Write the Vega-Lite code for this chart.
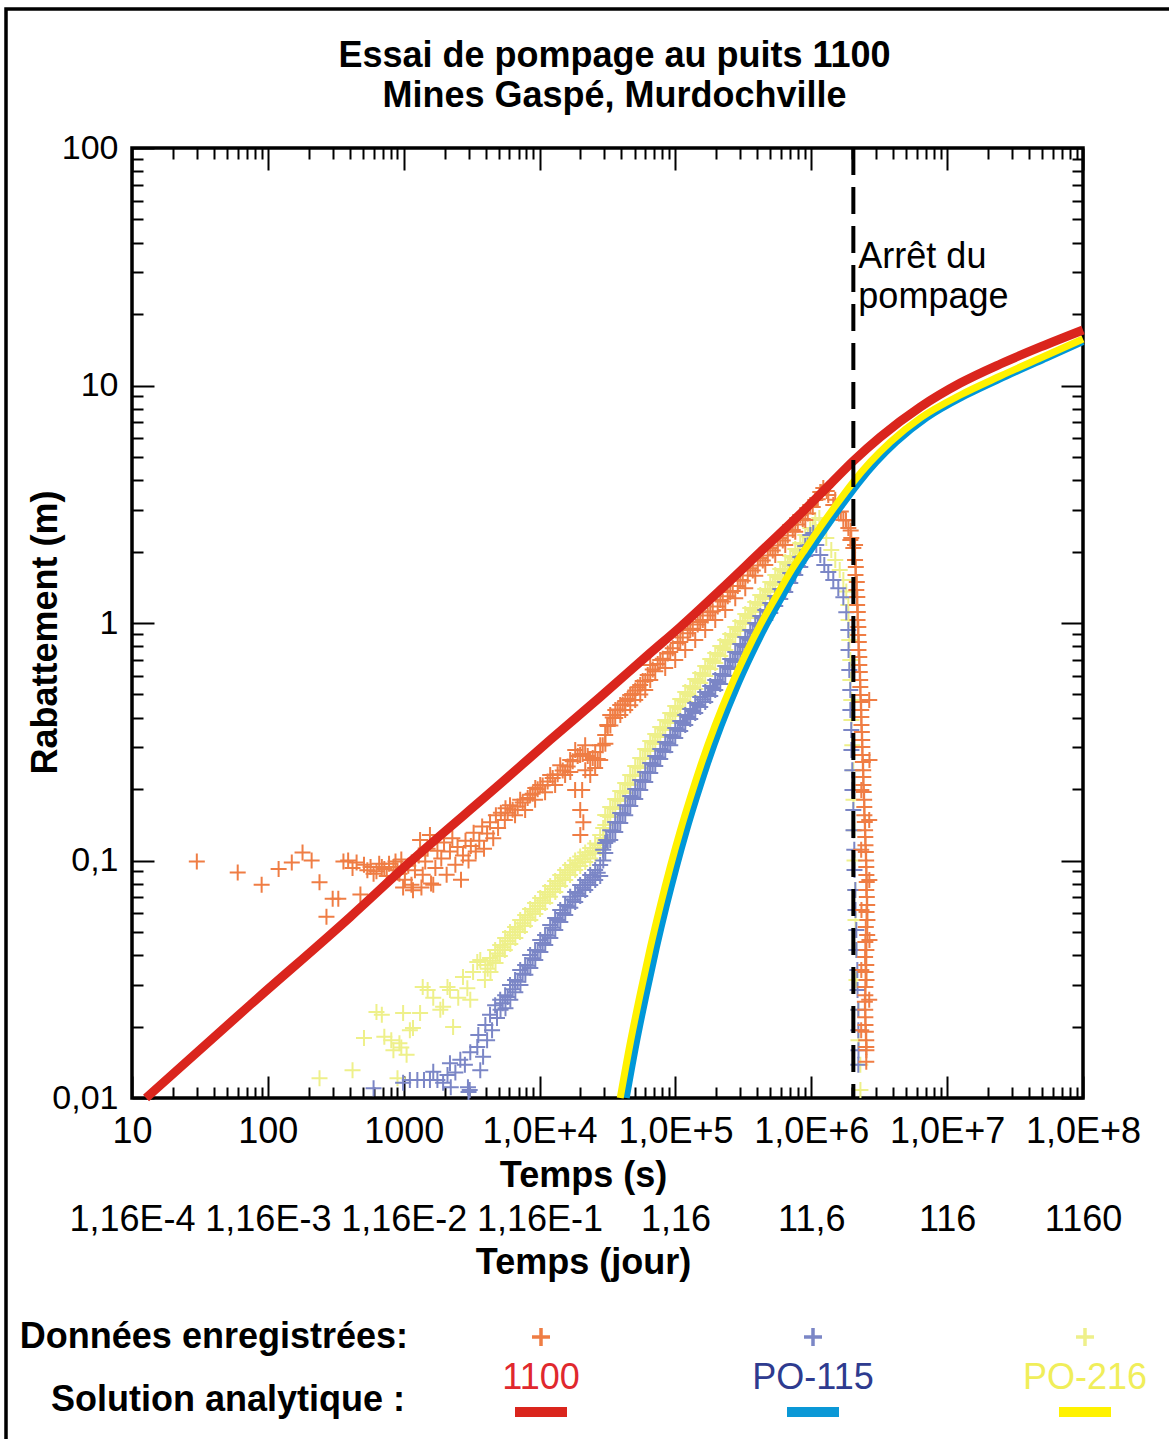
{
"$schema":"https://vega.github.io/schema/vega-lite/v6.json",
"width":951,"height":950,
"autosize":{"type":"none"},
"padding":{"left":132,"top":148,"right":86,"bottom":341},
"background":"white",
"title":{"text":["Essai de pompage au puits 1100","Mines Gaspé, Murdochville"],"font":"Liberation Sans","fontSize":36,"fontWeight":"bold","color":"black","anchor":"middle","frame":"group","baseline":"bottom","offset":-144,"lineHeight":40,"dx":7},
"config":{"view":{"stroke":"black","strokeWidth":3.5},
"axis":{"labelFont":"Liberation Sans","titleFont":"Liberation Sans","labelColor":"black","titleColor":"black","labelFontSize":36,"titleFontSize":36,"titleFontWeight":"bold","grid":false,"domain":false,"tickColor":"black","tickWidth":2,"labelOverlap":false,"labelFlush":false}},
"datasets":{
"o":[{"t":30,"s":0.099},{"t":60,"s":0.089},{"t":90,"s":0.079},{"t":120,"s":0.092},{"t":150,"s":0.098},{"t":180,"s":0.108},{"t":210,"s":0.1},{"t":240,"s":0.081},{"t":270,"s":0.058},{"t":300,"s":0.069},{"t":330,"s":0.069},{"t":360,"s":0.099},{"t":390,"s":0.1},{"t":420,"s":0.093},{"t":450,"s":0.098},{"t":480,"s":0.072},{"t":510,"s":0.096},{"t":540,"s":0.091},{"t":570,"s":0.094},{"t":600,"s":0.088},{"t":630,"s":0.09},{"t":660,"s":0.097},{"t":690,"s":0.094},{"t":720,"s":0.092},{"t":750,"s":0.086},{"t":780,"s":0.097},{"t":840,"s":0.094},{"t":870,"s":0.099},{"t":900,"s":0.091},{"t":930,"s":0.088},{"t":960,"s":0.101},{"t":990,"s":0.077},
{"t":1020,"s":0.083},{"t":1080,"s":0.095},{"t":1140,"s":0.079},{"t":1170,"s":0.075},{"t":1210,"s":0.091},{"t":1290,"s":0.105},{"t":1320,"s":0.122},{"t":1350,"s":0.077},{"t":1380,"s":0.087},{"t":1440,"s":0.099},{"t":1500,"s":0.112},{"t":1560,"s":0.128},{"t":1590,"s":0.08},{"t":1650,"s":0.079},{"t":1710,"s":0.093},{"t":1770,"s":0.11},{"t":1890,"s":0.102},{"t":1980,"s":0.119},{"t":2070,"s":0.087},{"t":2190,"s":0.109},{"t":2280,"s":0.124},{"t":2400,"s":0.096},{"t":2490,"s":0.114},{"t":2640,"s":0.083},{"t":2730,"s":0.105},{"t":2850,"s":0.121},{"t":3000,"s":0.1},{"t":3120,"s":0.115},{"t":3270,"s":0.131},{"t":3390,"s":0.109},{"t":3600,"s":0.121},{"t":3780,"s":0.139},{"t":3900,"s":0.112},{"t":4110,"s":0.13},{"t":4320,"s":0.145},{"t":4560,"s":0.124},{"t":4770,"s":0.155},{"t":4950,"s":0.137},{"t":5190,"s":0.159},
{"t":5550,"s":0.148},{"t":5610,"s":0.166},{"t":6060,"s":0.171},{"t":6600,"s":0.155},{"t":7200,"s":0.18},{"t":7830,"s":0.163},{"t":8520,"s":0.189},{"t":9270,"s":0.18},{"t":9300,"s":0.202},{"t":10110,"s":0.208},{"t":10980,"s":0.194},{"t":11970,"s":0.229},{"t":13020,"s":0.208},{"t":14190,"s":0.252},{"t":15420,"s":0.229},{"t":16800,"s":0.265},{"t":16830,"s":0.236},{"t":18300,"s":0.292},{"t":18270,"s":0.198},{"t":19890,"s":0.278},{"t":19920,"s":0.163},{"t":19950,"s":0.128},{"t":20580,"s":0.198},{"t":21000,"s":0.145},{"t":21660,"s":0.306},{"t":21690,"s":0.24},{"t":23580,"s":0.265},{"t":23610,"s":0.229},{"t":25680,"s":0.286},{"t":25650,"s":0.245},{"t":27930,"s":0.265},{"t":27960,"s":0.306},{"t":30420,"s":0.338},{"t":30500,"s":0.31},{"t":31500,"s":0.372},{"t":33120,"s":0.41},{"t":33200,"s":0.37},{"t":36030,"s":0.398},{"t":36100,"s":0.43},{"t":39240,"s":0.452},{"t":39300,"s":0.41},{"t":42690,"s":0.43},{"t":42700,"s":0.47},{"t":46470,"s":0.497},{"t":46500,"s":0.45},{"t":50580,"s":0.474},{"t":50600,"s":0.52},{"t":55050,"s":0.548},{"t":55100,"s":0.5},{"t":59940,"s":0.522},{"t":60000,"s":0.57},{"t":65220,"s":0.666},{"t":65250,"s":0.575},{"t":71010,"s":0.627},{"t":77280,"s":0.699},{"t":84120,"s":0.646},{"t":91560,"s":0.755},{"t":99660,"s":0.699},{"t":108480,"s":0.832},{"t":118110,"s":0.77},{"t":128490,"s":0.934},{"t":139890,"s":0.848},{"t":152190,"s":1.01},{"t":165690,"s":0.934},{"t":180390,"s":1.11},{"t":196410,"s":1.029},{"t":213810,"s":1.25},{"t":232710,"s":1.134},{"t":253200,"s":1.35},{"t":275700,"s":1.27},{"t":300090,"s":1.517},{"t":326610,"s":1.4},{"t":355500,"s":1.7},{"t":386910,"s":1.58},{"t":421110,"s":1.88},{"t":458490,"s":1.755},{"t":499020,"s":2.07},{"t":543090,"s":1.933},{"t":591090,"s":2.28},{"t":643410,"s":2.13},{"t":700290,"s":2.586},{"t":762300,"s":2.42},{"t":829800,"s":2.849},{"t":903090,"s":2.715},{"t":983100,"s":3.139},{"t":1070000,"s":3.295},{"t":1165000,"s":3.56},{"t":1226000,"s":3.7},
{"t":5823,"s":0.159},{"t":6337,"s":0.1637},{"t":6898,"s":0.1686},{"t":7508,"s":0.1754},{"t":8171,"s":0.1831},{"t":8896,"s":0.1911},{"t":9684,"s":0.1996},{"t":10540,"s":0.2071},{"t":11470,"s":0.2151},{"t":12490,"s":0.2223},{"t":13590,"s":0.2308},{"t":14800,"s":0.2395},{"t":16100,"s":0.2485},{"t":17530,"s":0.2616},{"t":19080,"s":0.2754},{"t":20770,"s":0.2808},{"t":22610,"s":0.2754},{"t":24610,"s":0.2702},{"t":26790,"s":0.2677},{"t":29160,"s":0.306},{"t":31740,"s":0.3684},{"t":34550,"s":0.3997},{"t":37600,"s":0.4318},{"t":40930,"s":0.4543},{"t":44550,"s":0.4782},{"t":48490,"s":0.5029},{"t":52780,"s":0.5367},{"t":57450,"s":0.5697},{"t":62530,"s":0.604},{"t":68060,"s":0.6375},{"t":74080,"s":0.6714},{"t":80640,"s":0.7069},{"t":87770,"s":0.744},{"t":95530,"s":0.7832},{"t":104000,"s":0.8245},{"t":113200,"s":0.8679},{"t":123200,"s":0.906},{"t":134100,"s":0.9454},{"t":145900,"s":0.9865},{"t":158900,"s":1.029},{"t":172900,"s":1.0744},{"t":188200,"s":1.1212},{"t":204900,"s":1.1734},{"t":223000,"s":1.2327},{"t":242700,"s":1.2968},{"t":264200,"s":1.3626},{"t":287600,"s":1.4327},{"t":313000,"s":1.505},{"t":340700,"s":1.5834},{"t":370900,"s":1.6636},{"t":403700,"s":1.7463},{"t":439400,"s":1.833},{"t":478200,"s":1.9237},{"t":520500,"s":2.0199},{"t":566600,"s":2.1199},{"t":616700,"s":2.2255},{"t":671200,"s":2.3335},{"t":730600,"s":2.4616},{"t":795200,"s":2.5982},{"t":865500,"s":2.7406},{"t":942100,"s":2.8935},{"t":1025000,"s":3.0822},{"t":1116000,"s":3.3213},{"t":1196000,"s":3.55},
{"t":1300000,"s":3.6},{"t":1334000,"s":3.459},{"t":1452000,"s":3.139},{"t":1500000,"s":3.3},{"t":1581000,"s":2.93},{"t":1650000,"s":2.95},{"t":1722000,"s":2.715},{"t":1800000,"s":2.7},{"t":1874000,"s":2.51},{"t":1950000,"s":2.45},{"t":1940000,"s":2.236},{"t":1970000,"s":2.28},{"t":2039000,"s":2.07},{"t":2100000,"s":2.13},{"t":2100000,"s":1.842},{"t":2115000,"s":1.593},{"t":2145000,"s":1.377},{"t":2175000,"s":1.191},{"t":2190000,"s":1.029},{"t":2215000,"s":0.89},{"t":2225000,"s":0.77},{"t":2256000,"s":0.666},{"t":2290000,"s":0.575},{"t":2300000,"s":0.497},{"t":2330000,"s":0.43},{"t":2340000,"s":0.372},{"t":2370000,"s":0.322},{"t":2380000,"s":0.278},{"t":2410000,"s":0.24},{"t":2420000,"s":0.208},{"t":2450000,"s":0.18},{"t":2460000,"s":0.155},{"t":2490000,"s":0.134},{"t":2505000,"s":0.116},{"t":2535000,"s":0.1},{"t":2545000,"s":0.0869},{"t":2540000,"s":0.0751},{"t":2580000,"s":0.065},{"t":2590000,"s":0.0562},{"t":2580000,"s":0.0486},{"t":2545000,"s":0.042},{"t":2540000,"s":0.0363},{"t":2550000,"s":0.0314},{"t":2500000,"s":0.0271},{"t":2495000,"s":0.0235},{"t":2505000,"s":0.0203},{"t":2540000,"s":0.0175},{"t":2545000,"s":0.0159},{"t":2540000,"s":0.0142},
{"t":2127000,"s":1.7211},{"t":2163000,"s":1.488},{"t":2182000,"s":1.2866},{"t":2200000,"s":1.1124},{"t":2219000,"s":0.962},{"t":2237000,"s":0.8318},{"t":2256000,"s":0.7191},{"t":2275000,"s":0.6218},{"t":2296000,"s":0.5376},{"t":2315000,"s":0.4649},{"t":2335000,"s":0.402},{"t":2355000,"s":0.3476},{"t":2375000,"s":0.3005},{"t":2395000,"s":0.2599},{"t":2415000,"s":0.2247},{"t":2436000,"s":0.1943},{"t":2457000,"s":0.168},{"t":2477000,"s":0.1453},{"t":2498000,"s":0.1256},{"t":2520000,"s":0.1086},{"t":2541000,"s":0.0939},{"t":2560000,"s":0.0812},{"t":2563000,"s":0.0702},{"t":2550000,"s":0.0607},{"t":2520000,"s":0.0525},{"t":2500000,"s":0.0454},{"t":2490000,"s":0.0392},{"t":2510000,"s":0.0339},{"t":2500000,"s":0.0293},{"t":2480000,"s":0.0254},{"t":2500000,"s":0.0219},{"t":2520000,"s":0.019},{"t":2540000,"s":0.0164},
{"t":2670000,"s":0.474},{"t":2680000,"s":0.265},{"t":2670000,"s":0.148},{"t":2675000,"s":0.0828},{"t":2680000,"s":0.0463},{"t":2670000,"s":0.0259},{"t":2335000,"s":0.198},{"t":2330000,"s":0.111},{"t":2340000,"s":0.0619},{"t":2335000,"s":0.0346},{"t":2330000,"s":0.0193}],
"b":[{"t":600,"s":0.011},{"t":990,"s":0.0116},{"t":1110,"s":0.0119},{"t":1260,"s":0.0119},{"t":1410,"s":0.0119},{"t":1560,"s":0.0119},{"t":1650,"s":0.0129},{"t":1770,"s":0.0119},{"t":1950,"s":0.0116},{"t":2100,"s":0.0125},{"t":2190,"s":0.014},{"t":2220,"s":0.0111},{"t":2400,"s":0.0128},{"t":2610,"s":0.0145},{"t":2820,"s":0.0138},{"t":2970,"s":0.0111},{"t":3000,"s":0.0106},{"t":3060,"s":0.0108},{"t":3090,"s":0.0156},{"t":3480,"s":0.0164},{"t":3540,"s":0.0184},{"t":3660,"s":0.0131},{"t":3840,"s":0.0149},{"t":3990,"s":0.0203},{"t":4110,"s":0.0175},{"t":4320,"s":0.0224},{"t":4470,"s":0.0193},{"t":4710,"s":0.0246},{"t":4860,"s":0.0217},
{"t":5130,"s":0.0259},{"t":5160,"s":0.0235},{"t":5580,"s":0.0271},{"t":5610,"s":0.0239},{"t":6060,"s":0.0299},{"t":6090,"s":0.0259},{"t":6600,"s":0.0314},{"t":6630,"s":0.0279},{"t":7200,"s":0.0346},{"t":7230,"s":0.0299},{"t":7830,"s":0.0363},{"t":7860,"s":0.033},{"t":8520,"s":0.04},{"t":8550,"s":0.0353},{"t":9270,"s":0.042},{"t":9300,"s":0.0381},{"t":10110,"s":0.0463},{"t":10140,"s":0.0412},{"t":10980,"s":0.0486},{"t":11010,"s":0.0441},{"t":11970,"s":0.0535},{"t":12000,"s":0.0472},{"t":13020,"s":0.0573},{"t":13050,"s":0.051},{"t":14190,"s":0.0619},{"t":14220,"s":0.0551},{"t":15420,"s":0.065},{"t":15450,"s":0.059},{"t":16800,"s":0.0703},{"t":16830,"s":0.0632},{"t":18270,"s":0.0737},{"t":18300,"s":0.0669},{"t":19890,"s":0.0788},{"t":19920,"s":0.0709},{"t":21660,"s":0.0828},{"t":21690,"s":0.0751},{"t":23580,"s":0.0869},{"t":23610,"s":0.0788},{"t":25650,"s":0.0912},{"t":25680,"s":0.0828},{"t":27930,"s":0.0957},{"t":27960,"s":0.0861},{"t":29400,"s":0.111},{"t":29430,"s":0.1},{"t":30930,"s":0.122},
{"t":5350,"s":0.02505},{"t":5823,"s":0.02662},{"t":6337,"s":0.02869},{"t":6898,"s":0.03085},{"t":7508,"s":0.03333},{"t":8171,"s":0.03601},{"t":8896,"s":0.03876},{"t":9684,"s":0.0418},{"t":10540,"s":0.04494},{"t":11470,"s":0.04817},{"t":12490,"s":0.05206},{"t":13590,"s":0.0562},{"t":14800,"s":0.06009},{"t":16100,"s":0.06414},{"t":17530,"s":0.06833},{"t":19080,"s":0.07242},{"t":20770,"s":0.07677},{"t":22610,"s":0.08079},{"t":24610,"s":0.08479},{"t":26790,"s":0.08875},
{"t":30420,"s":0.1185},{"t":30450,"s":0.1075},{"t":33110,"s":0.134},{"t":33140,"s":0.122},{"t":36040,"s":0.1453},{"t":36070,"s":0.1318},{"t":39230,"s":0.1585},{"t":39260,"s":0.1438},{"t":42690,"s":0.171},{"t":42720,"s":0.155},{"t":46480,"s":0.187},{"t":46510,"s":0.1697},{"t":50580,"s":0.2},{"t":50610,"s":0.1815},{"t":55060,"s":0.218},{"t":55090,"s":0.198},{"t":59930,"s":0.2359},{"t":59960,"s":0.214},{"t":65230,"s":0.2573},{"t":65260,"s":0.2336},{"t":71020,"s":0.2754},{"t":71050,"s":0.25},{"t":77290,"s":0.2948},{"t":77320,"s":0.2676},{"t":84130,"s":0.3155},{"t":84160,"s":0.2862},{"t":91560,"s":0.338},{"t":91590,"s":0.306},{"t":99660,"s":0.3613},{"t":99690,"s":0.328},{"t":108470,"s":0.3867},{"t":108500,"s":0.3509},{"t":118100,"s":0.41},{"t":118130,"s":0.372},{"t":128500,"s":0.4344},{"t":128530,"s":0.3943},{"t":139900,"s":0.4604},{"t":139930,"s":0.418},{"t":152200,"s":0.4881},{"t":152230,"s":0.4429},{"t":165700,"s":0.5122},{"t":165730,"s":0.4649},{"t":180400,"s":0.5429},{"t":180430,"s":0.4928},{"t":196400,"s":0.575},{"t":196430,"s":0.522},{"t":213800,"s":0.6101},{"t":213830,"s":0.5536},{"t":232700,"s":0.6592},{"t":232730,"s":0.5981},{"t":253200,"s":0.7054},{"t":253230,"s":0.6403},{"t":275700,"s":0.7548},{"t":275730,"s":0.6854},{"t":300100,"s":0.8158},{"t":300130,"s":0.7404},{"t":326600,"s":0.873},{"t":326630,"s":0.7921},{"t":355500,"s":0.934},{"t":355530,"s":0.848},{"t":386900,"s":1.0},{"t":386930,"s":0.9076},{"t":421100,"s":1.0703},{"t":421130,"s":0.9714},{"t":458500,"s":1.134},{"t":458530,"s":1.029},{"t":499000,"s":1.214},{"t":499030,"s":1.1018},{"t":543100,"s":1.2995},{"t":543130,"s":1.1793},{"t":591100,"s":1.3906},{"t":591130,"s":1.2623},{"t":643400,"s":1.488},{"t":643430,"s":1.3507},{"t":700300,"s":1.624},{"t":700330,"s":1.4737},{"t":762300,"s":1.755},{"t":762330,"s":1.593},{"t":829800,"s":1.8961},{"t":829830,"s":1.7211},{"t":903100,"s":2.11},{"t":903130,"s":1.9145},{"t":983100,"s":2.347},{"t":983130,"s":2.13},{"t":1034000,"s":2.393},
{"t":31740,"s":0.1202},{"t":34540,"s":0.1331},{"t":37600,"s":0.1445},{"t":40930,"s":0.1569},{"t":44540,"s":0.1704},{"t":48490,"s":0.1842},{"t":52770,"s":0.199},{"t":57440,"s":0.2162},{"t":62520,"s":0.2347},{"t":68060,"s":0.2536},{"t":74090,"s":0.2715},{"t":80640,"s":0.2905},{"t":87770,"s":0.311},{"t":95520,"s":0.3327},{"t":104000,"s":0.356},{"t":113200,"s":0.3793},{"t":123200,"s":0.402},{"t":134100,"s":0.4262},{"t":146000,"s":0.4517},{"t":158800,"s":0.4763},{"t":172900,"s":0.5025},{"t":188200,"s":0.5324},{"t":204900,"s":0.5643},{"t":223100,"s":0.604},{"t":242800,"s":0.6494},{"t":264200,"s":0.6951},{"t":287600,"s":0.7476},{"t":313100,"s":0.8039},{"t":340700,"s":0.8603},{"t":370900,"s":0.9208},{"t":403700,"s":0.9856},{"t":439300,"s":1.0498},{"t":478400,"s":1.1179},{"t":520600,"s":1.1964},{"t":566600,"s":1.2805},{"t":616700,"s":1.3702},{"t":671300,"s":1.4805},{"t":730600,"s":1.6083},{"t":795300,"s":1.7378},{"t":865700,"s":1.9055},{"t":942200,"s":2.1199},
{"t":1089000,"s":2.13},{"t":1165000,"s":1.933},{"t":1247000,"s":1.755},{"t":1334000,"s":1.64},{"t":1452000,"s":1.517},{"t":1581000,"s":1.4},{"t":1722000,"s":1.285},{"t":1810000,"s":1.11},{"t":1874000,"s":0.934},{"t":1880000,"s":0.77},{"t":1905000,"s":0.634},{"t":1937000,"s":0.522},{"t":1940000,"s":0.43},{"t":1970000,"s":0.354},{"t":1975000,"s":0.292},{"t":2004000,"s":0.24},{"t":2010000,"s":0.198},{"t":2039000,"s":0.163},{"t":2045000,"s":0.134},{"t":2073000,"s":0.111},{"t":2080000,"s":0.0912},{"t":2109000,"s":0.0751},{"t":2115000,"s":0.0619},{"t":2145000,"s":0.051},{"t":2150000,"s":0.042},{"t":2182000,"s":0.0346},{"t":2190000,"s":0.0285},{"t":2219000,"s":0.0235},{"t":2220000,"s":0.0193},{"t":2225000,"s":0.0159},{"t":2219000,"s":0.0138}],
"y":[{"t":240,"s":0.0121},{"t":420,"s":0.0131},{"t":510,"s":0.0179},{"t":630,"s":0.023},{"t":690,"s":0.0224},{"t":720,"s":0.0181},{"t":810,"s":0.0175},{"t":840,"s":0.0159},{"t":900,"s":0.0121},{"t":930,"s":0.017},{"t":960,"s":0.0163},{"t":990,"s":0.0228},{"t":1050,"s":0.0152},{"t":1110,"s":0.0193},{"t":1170,"s":0.0197},{"t":1320,"s":0.0228},{"t":1380,"s":0.0293},{"t":1500,"s":0.0285},{"t":1650,"s":0.0264},{"t":1860,"s":0.0235},{"t":1950,"s":0.0242},{"t":2100,"s":0.0293},{"t":2190,"s":0.0285},{"t":2310,"s":0.0199},{"t":2520,"s":0.0264},{"t":2730,"s":0.0323},{"t":2940,"s":0.029},{"t":3090,"s":0.0259},{"t":3240,"s":0.0339},{"t":3480,"s":0.0374},{"t":3660,"s":0.0381},
{"t":3990,"s":0.0363},{"t":3960,"s":0.0314},{"t":4320,"s":0.0389},{"t":4350,"s":0.0339},{"t":4710,"s":0.042},{"t":4740,"s":0.037},{"t":5130,"s":0.0441},{"t":5100,"s":0.0396},{"t":5580,"s":0.0472},{"t":5550,"s":0.042},{"t":6060,"s":0.05},{"t":6090,"s":0.0445},{"t":6600,"s":0.0525},{"t":6630,"s":0.0472},{"t":7200,"s":0.0562},{"t":7170,"s":0.05},{"t":7830,"s":0.059},{"t":7800,"s":0.053},{"t":8520,"s":0.0625},{"t":8550,"s":0.0562},{"t":9270,"s":0.0663},{"t":9300,"s":0.0596},{"t":10110,"s":0.0695},{"t":10080,"s":0.0625},{"t":10980,"s":0.0737},{"t":11010,"s":0.0663},{"t":11970,"s":0.0781},{"t":11940,"s":0.0703},{"t":13020,"s":0.082},{"t":13050,"s":0.0737},{"t":14190,"s":0.0869},{"t":14160,"s":0.0781},{"t":15420,"s":0.0912},{"t":15450,"s":0.0828},{"t":16800,"s":0.0957},{"t":16770,"s":0.0869},{"t":18270,"s":0.1},{"t":18300,"s":0.0912},{"t":19890,"s":0.104},{"t":19920,"s":0.0948},{"t":21660,"s":0.108},{"t":21690,"s":0.0986},{"t":23580,"s":0.113},{"t":23610,"s":0.102},{"t":25650,"s":0.118},{"t":25680,"s":0.107},{"t":27930,"s":0.128},{"t":27960,"s":0.113},{"t":29400,"s":0.137},{"t":29430,"s":0.124},
{"t":4148,"s":0.035},{"t":4515,"s":0.0378},{"t":4914,"s":0.0406},{"t":5350,"s":0.0431},{"t":5823,"s":0.0458},{"t":6337,"s":0.0484},{"t":6898,"s":0.0513},{"t":7508,"s":0.0544},{"t":8171,"s":0.0575},{"t":8896,"s":0.061},{"t":9684,"s":0.0643},{"t":10540,"s":0.0679},{"t":11470,"s":0.0719},{"t":12490,"s":0.0759},{"t":13590,"s":0.08},{"t":14800,"s":0.0846},{"t":16100,"s":0.089},{"t":17530,"s":0.0934},{"t":19080,"s":0.0976},{"t":20770,"s":0.1015},{"t":22610,"s":0.1055},{"t":24610,"s":0.1096},{"t":26790,"s":0.1162},
{"t":30420,"s":0.1554},{"t":30450,"s":0.1411},{"t":33110,"s":0.168},{"t":33140,"s":0.1525},{"t":36040,"s":0.1815},{"t":36070,"s":0.1648},{"t":39230,"s":0.1962},{"t":39260,"s":0.178},{"t":42690,"s":0.212},{"t":42720,"s":0.1924},{"t":46480,"s":0.2291},{"t":46510,"s":0.2079},{"t":50580,"s":0.25},{"t":50610,"s":0.2269},{"t":55060,"s":0.2702},{"t":55090,"s":0.2452},{"t":59930,"s":0.2948},{"t":59960,"s":0.2676},{"t":65230,"s":0.3186},{"t":65260,"s":0.2891},{"t":71020,"s":0.3409},{"t":71050,"s":0.3094},{"t":77290,"s":0.3648},{"t":77320,"s":0.3311},{"t":84130,"s":0.39},{"t":84160,"s":0.354},{"t":91560,"s":0.418},{"t":91590,"s":0.3793},{"t":99660,"s":0.4472},{"t":99690,"s":0.4059},{"t":108470,"s":0.4786},{"t":108500,"s":0.4344},{"t":118100,"s":0.5122},{"t":118130,"s":0.4649},{"t":128500,"s":0.5429},{"t":128530,"s":0.4928},{"t":139900,"s":0.5809},{"t":139930,"s":0.5274},{"t":152200,"s":0.6161},{"t":152230,"s":0.559},{"t":165700,"s":0.6592},{"t":165730,"s":0.5981},{"t":180400,"s":0.7054},{"t":180430,"s":0.6403},{"t":196400,"s":0.7476},{"t":196430,"s":0.6788},{"t":213800,"s":0.8},{"t":213830,"s":0.7264},{"t":232700,"s":0.848},{"t":232730,"s":0.77},{"t":253200,"s":0.8989},{"t":253230,"s":0.8158},{"t":275700,"s":0.962},{"t":275730,"s":0.873},{"t":300100,"s":1.0196},{"t":300130,"s":0.9254},{"t":326600,"s":1.0911},{"t":326630,"s":0.9904},{"t":355500,"s":1.1566},{"t":355530,"s":1.0498},{"t":386900,"s":1.2259},{"t":386930,"s":1.1124},{"t":421100,"s":1.312},{"t":421130,"s":1.191},{"t":458500,"s":1.3906},{"t":458530,"s":1.2623},{"t":499000,"s":1.488},{"t":499030,"s":1.3507},{"t":543100,"s":1.593},{"t":543130,"s":1.445},{"t":591100,"s":1.6877},{"t":591130,"s":1.5319},{"t":643400,"s":1.8064},{"t":643430,"s":1.6397},{"t":700300,"s":1.9145},{"t":700330,"s":1.7378},{"t":762300,"s":2.0493},{"t":762330,"s":1.86},{"t":829800,"s":2.1718},{"t":829830,"s":1.9712},{"t":903100,"s":2.347},{"t":903130,"s":2.13},{"t":983100,"s":2.512},{"t":983130,"s":2.28},{"t":1070000,"s":2.715},{"t":1070030,"s":2.464},{"t":1146000,"s":2.767},
{"t":31740,"s":0.1539},{"t":34540,"s":0.1664},{"t":37600,"s":0.1798},{"t":40930,"s":0.1943},{"t":44540,"s":0.21},{"t":48490,"s":0.228},{"t":52770,"s":0.2475},{"t":57440,"s":0.2689},{"t":62520,"s":0.2919},{"t":68060,"s":0.3139},{"t":74090,"s":0.336},{"t":80640,"s":0.3595},{"t":87770,"s":0.3849},{"t":95520,"s":0.4118},{"t":104000,"s":0.4407},{"t":113200,"s":0.4717},{"t":123200,"s":0.5025},{"t":134100,"s":0.5351},{"t":146000,"s":0.5698},{"t":158800,"s":0.6069},{"t":172900,"s":0.6494},{"t":188200,"s":0.6918},{"t":204900,"s":0.7366},{"t":223100,"s":0.7846},{"t":242800,"s":0.8318},{"t":264200,"s":0.8857},{"t":287600,"s":0.9434},{"t":313100,"s":1.0048},{"t":340700,"s":1.0703},{"t":370900,"s":1.134},{"t":403700,"s":1.2081},{"t":439300,"s":1.2866},{"t":478400,"s":1.3702},{"t":520600,"s":1.4666},{"t":566600,"s":1.5621},{"t":616700,"s":1.6636},{"t":671300,"s":1.7717},{"t":730600,"s":1.8869},{"t":795300,"s":2.0095},{"t":865700,"s":2.1509},{"t":942200,"s":2.313},{"t":1025700,"s":2.4878},
{"t":1226000,"s":2.586},{"t":1290000,"s":2.28},{"t":1404000,"s":2.029},{"t":1502000,"s":1.842},{"t":1619000,"s":1.672},{"t":1722000,"s":1.517},{"t":1810000,"s":1.357},{"t":1874000,"s":1.191},{"t":1880000,"s":1.029},{"t":1905000,"s":0.848},{"t":1937000,"s":0.699},{"t":1940000,"s":0.575},{"t":1970000,"s":0.474},{"t":1975000,"s":0.39},{"t":2004000,"s":0.306},{"t":2039000,"s":0.24},{"t":2045000,"s":0.18},{"t":2073000,"s":0.134},{"t":2080000,"s":0.1},{"t":2109000,"s":0.0751},{"t":2115000,"s":0.0562},{"t":2145000,"s":0.042},{"t":2150000,"s":0.0314},{"t":2219000,"s":0.0235},{"t":2225000,"s":0.0175},{"t":2296000,"s":0.0138},{"t":2300000,"s":0.0108}],
"redline":[{"t":12.68,"s":0.01},{"t":73.9,"s":0.02464},{"t":403,"s":0.0578},{"t":1115,"s":0.0986},{"t":5128,"s":0.21},{"t":11975,"s":0.3217},{"t":27940,"s":0.4881},{"t":65220,"s":0.7476},{"t":108470,"s":0.962},{"t":213800,"s":1.3767},{"t":421000,"s":1.99},{"t":829800,"s":2.877},{"t":1380000,"s":3.849},{"t":2039000,"s":4.81},{"t":3222000,"s":6.07},{"t":6348000,"s":8.12},{"t":12510000,"s":10.24},{"t":24650000,"s":12.32},{"t":48570000,"s":14.53},{"t":100000000,"s":17.13}],
"yellowline":[{"t":39230,"s":0.01},{"t":46480,"s":0.01704},{"t":55060,"s":0.02741},{"t":65230,"s":0.04281},{"t":77290,"s":0.06434},{"t":91560,"s":0.09389},{"t":108470,"s":0.1331},{"t":128500,"s":0.1833},{"t":152200,"s":0.2475},{"t":196400,"s":0.372},{"t":253200,"s":0.5324},{"t":326600,"s":0.733},{"t":421100,"s":0.981},{"t":543100,"s":1.274},{"t":700300,"s":1.64},{"t":903100,"s":2.049},{"t":1165000,"s":2.536},{"t":1502000,"s":3.109},{"t":2039000,"s":3.924},{"t":2720000,"s":4.764},{"t":3817000,"s":5.783},{"t":6348000,"s":7.298},{"t":12510000,"s":9.12},{"t":24650000,"s":10.96},{"t":48570000,"s":13.06},{"t":100000000,"s":15.7}],
"blueline":[{"t":43420,"s":0.01},{"t":51440,"s":0.01704},{"t":60950,"s":0.02741},{"t":72230,"s":0.04281},{"t":85560,"s":0.06434},{"t":101400,"s":0.09389},{"t":120100,"s":0.1331},{"t":142300,"s":0.1833},{"t":168600,"s":0.2475},{"t":217500,"s":0.372},{"t":280400,"s":0.5324},{"t":361500,"s":0.733},{"t":466300,"s":0.981},{"t":601400,"s":1.274},{"t":775300,"s":1.64},{"t":1000000,"s":2.049},{"t":1290000,"s":2.536},{"t":1663000,"s":3.109},{"t":2257000,"s":3.924},{"t":3011000,"s":4.764},{"t":4225000,"s":5.783},{"t":7029000,"s":7.298},{"t":13850000,"s":9.12},{"t":27290000,"s":10.96},{"t":53770000,"s":13.06},{"t":100000000,"s":15.31}],
"legend":[{"series":"1100","col":1},{"series":"PO-115","col":3},{"series":"PO-216","col":5}]
},
"layer":[
{
"layer":[
{"data":{"name":"y"},"mark":{"type":"point","shape":"M-1,0L1,0M0,-1L0,1","size":256,"filled":false,"strokeWidth":2,"color":"#eef08a","opacity":1},
"encoding":{"x":{"field":"t","type":"quantitative","scale":{"type":"log","domain":[10,100000000],"nice":false},
"axis":{"orient":"bottom","values":[10,100,1000,10000,100000,1000000,10000000,100000000],"labelExpr":"datum.value < 5000 ? toString(datum.value) : '1,0E+' + round(log(datum.value)/LN10)","labelPadding":16,"ticks":false,"tickSize":0,"title":"Temps (s)","titlePadding":9,"titleX":451}},
"y":{"field":"s","type":"quantitative","scale":{"type":"log","domain":[0.01,100],"nice":false},
"axis":{"orient":"left","values":[0.01,0.1,1,10,100],"labelExpr":"replace(toString(datum.value), '.', ',')","labelFontSize":34,"labelPadding":14,"ticks":false,"tickSize":0,"title":"Rabattement (m)","titlePadding":-13,"titleY":484}}}},
{"data":{"name":"b"},"mark":{"type":"point","shape":"M-1,0L1,0M0,-1L0,1","size":256,"filled":false,"strokeWidth":2,"color":"#7b86c6","opacity":1},
"encoding":{"x":{"field":"t","type":"quantitative","scale":{"type":"log","domain":[10,100000000],"nice":false},
"axis":{"orient":"bottom","values":[10,100,1000,10000,100000,1000000,10000000,100000000],"labels":false,"tickSize":-22,"title":null}},
"y":{"field":"s","type":"quantitative","scale":{"type":"log","domain":[0.01,100],"nice":false},
"axis":{"orient":"left","values":[0.01,0.1,1,10,100],"labels":false,"tickSize":-22,"title":null}}}},
{"data":{"name":"o"},"mark":{"type":"point","shape":"M-1,0L1,0M0,-1L0,1","size":256,"filled":false,"strokeWidth":2,"color":"#ef7d44","opacity":1},
"encoding":{"x":{"field":"t","type":"quantitative","scale":{"type":"log","domain":[10,100000000],"nice":false},
"axis":{"orient":"bottom","values":[20,30,40,50,60,70,80,90,200,300,400,500,600,700,800,900,2000,3000,4000,5000,6000,7000,8000,9000,20000,30000,40000,50000,60000,70000,80000,90000,200000,300000,400000,500000,600000,700000,800000,900000,2000000,3000000,4000000,5000000,6000000,7000000,8000000,9000000,20000000,30000000,40000000,50000000,60000000,70000000,80000000,90000000],"labels":false,"tickSize":-11,"title":null}},
"y":{"field":"s","type":"quantitative","scale":{"type":"log","domain":[0.01,100],"nice":false},
"axis":{"orient":"left","values":[0.02,0.03,0.04,0.05,0.06,0.07,0.08,0.09,0.2,0.3,0.4,0.5,0.6,0.7,0.8,0.9,2,3,4,5,6,7,8,9,20,30,40,50,60,70,80,90],"labels":false,"tickSize":-11,"title":null}}}},
{"data":{"name":"blueline"},"mark":{"type":"line","color":"#0097d8","strokeWidth":7,"interpolate":"monotone"},
"encoding":{"x":{"field":"t","type":"quantitative","scale":{"type":"log","domain":[10,100000000],"nice":false},
"axis":{"orient":"top","values":[10,100,1000,10000,100000,1000000,10000000,100000000],"labels":false,"tickSize":-22,"title":null}},
"y":{"field":"s","type":"quantitative","scale":{"type":"log","domain":[0.01,100],"nice":false},
"axis":{"orient":"right","values":[0.01,0.1,1,10,100],"labels":false,"tickSize":-22,"title":null}}}},
{"data":{"name":"yellowline"},"mark":{"type":"line","color":"#fff200","strokeWidth":7,"interpolate":"monotone"},
"encoding":{"x":{"field":"t","type":"quantitative","scale":{"type":"log","domain":[10,100000000],"nice":false},
"axis":{"orient":"top","values":[20,30,40,50,60,70,80,90,200,300,400,500,600,700,800,900,2000,3000,4000,5000,6000,7000,8000,9000,20000,30000,40000,50000,60000,70000,80000,90000,200000,300000,400000,500000,600000,700000,800000,900000,2000000,3000000,4000000,5000000,6000000,7000000,8000000,9000000,20000000,30000000,40000000,50000000,60000000,70000000,80000000,90000000],"labels":false,"tickSize":-11,"title":null}},
"y":{"field":"s","type":"quantitative","scale":{"type":"log","domain":[0.01,100],"nice":false},
"axis":{"orient":"right","values":[0.02,0.03,0.04,0.05,0.06,0.07,0.08,0.09,0.2,0.3,0.4,0.5,0.6,0.7,0.8,0.9,2,3,4,5,6,7,8,9,20,30,40,50,60,70,80,90],"labels":false,"tickSize":-11,"title":null}}}},
{"data":{"name":"redline"},"mark":{"type":"line","color":"#da251d","strokeWidth":9,"interpolate":"monotone"},
"encoding":{"x":{"field":"t","type":"quantitative","scale":{"type":"log","domain":[10,100000000],"nice":false},
"axis":{"orient":"bottom","offset":88,"values":[10,100,1000,10000,100000,1000000,10000000,100000000],"labelExpr":"['1,16E-4','1,16E-3','1,16E-2','1,16E-1','1,16','11,6','116','1160'][round(log(datum.value)/LN10)-1]","labelPadding":16,"ticks":false,"tickSize":0,"title":"Temps (jour)","titlePadding":8,"titleX":451}},
"y":{"field":"s","type":"quantitative","scale":{"type":"log","domain":[0.01,100],"nice":false},"axis":null}}},
{"data":{"values":[{"t":2040000}]},"mark":{"type":"rule","color":"black","strokeWidth":4,"strokeDash":[27,12]},
"encoding":{"x":{"field":"t","type":"quantitative","scale":{"type":"log","domain":[10,100000000],"nice":false},"axis":null}}},
{"data":{"values":[{"t":2040000,"s":41,"txt":"Arrêt du\npompage"}]},"mark":{"type":"text","align":"left","baseline":"top","dx":5,"font":"Liberation Sans","fontSize":36,"lineBreak":"\n","lineHeight":40,"color":"black"},
"encoding":{"x":{"field":"t","type":"quantitative","scale":{"type":"log","domain":[10,100000000],"nice":false},"axis":null},
"y":{"field":"s","type":"quantitative","scale":{"type":"log","domain":[0.01,100],"nice":false},"axis":null},
"text":{"field":"txt"}}}
],
"resolve":{"axis":{"x":"independent","y":"independent"}}
},
{
"data":{"name":"legend"},
"layer":[
{"mark":{"type":"point","shape":"M-1,0L1,0M0,-1L0,1","size":324,"filled":false,"strokeWidth":3.5,"opacity":1},
"encoding":{"x":{"field":"col","type":"quantitative","scale":{"domain":[0,5],"range":[273,953]},"axis":null},
"y":{"datum":0,"type":"quantitative","scale":{"domain":[0,2],"range":[1189,1264]},"axis":null},
"color":{"field":"series","type":"nominal","scale":{"domain":["1100","PO-115","PO-216"],"range":["#ef7d44","#7b86c6","#eef08a"]},"legend":null}}},
{"mark":{"type":"text","font":"Liberation Sans","fontSize":36,"baseline":"middle","align":"center","dy":3},
"encoding":{"x":{"field":"col","type":"quantitative","scale":{"domain":[0,5],"range":[273,953]},"axis":null},
"y":{"datum":1,"type":"quantitative","scale":{"domain":[0,2],"range":[1189,1264]},"axis":null},
"text":{"field":"series"},
"color":{"field":"series","type":"nominal","scale":{"domain":["1100","PO-115","PO-216"],"range":["#e0282e","#2e3b8f","#f0ee5a"]},"legend":null}}},
{"mark":{"type":"point","shape":"M-1,-0.19L1,-0.19L1,0.19L-1,0.19Z","size":2704,"filled":true,"opacity":1},
"encoding":{"x":{"field":"col","type":"quantitative","scale":{"domain":[0,5],"range":[273,953]},"axis":null},
"y":{"datum":2,"type":"quantitative","scale":{"domain":[0,2],"range":[1189,1264]},"axis":null},
"color":{"field":"series","type":"nominal","scale":{"domain":["1100","PO-115","PO-216"],"range":["#da251d","#0b98d6","#fff200"]},"legend":null}}},
{"data":{"values":[{"lbl":"Données enregistrées:","col":0,"row":0}]},"mark":{"type":"text","font":"Liberation Sans","fontSize":36,"fontWeight":"bold","baseline":"middle","align":"right","dx":3,"color":"black"},
"encoding":{"x":{"field":"col","type":"quantitative","scale":{"domain":[0,5],"range":[273,953]},"axis":null},
"y":{"field":"row","type":"quantitative","scale":{"domain":[0,2],"range":[1189,1264]},"axis":null},
"text":{"field":"lbl"}}},
{"data":{"values":[{"lbl":"Solution analytique :","col":0,"row":2}]},"mark":{"type":"text","font":"Liberation Sans","fontSize":36,"fontWeight":"bold","baseline":"middle","align":"right","dx":0,"dy":-12,"color":"black"},
"encoding":{"x":{"field":"col","type":"quantitative","scale":{"domain":[0,5],"range":[273,953]},"axis":null},
"y":{"field":"row","type":"quantitative","scale":{"domain":[0,2],"range":[1189,1264]},"axis":null},
"text":{"field":"lbl"}}}
],
"resolve":{"scale":{"color":"independent"}}
},
{
"data":{"values":[{"a":0,"b":1}]},
"mark":{"type":"rect","filled":false,"stroke":"black","strokeWidth":3.5},
"encoding":{"x":{"field":"a","type":"quantitative","scale":{"domain":[0,1],"range":[-126,1050]},"axis":null},"x2":{"field":"b"},
"y":{"field":"a","type":"quantitative","scale":{"domain":[0,1],"range":[-139,1310]},"axis":null},"y2":{"field":"b"}}
}
],
"resolve":{"scale":{"x":"independent","y":"independent"},"axis":{"x":"independent","y":"independent"}}
}
